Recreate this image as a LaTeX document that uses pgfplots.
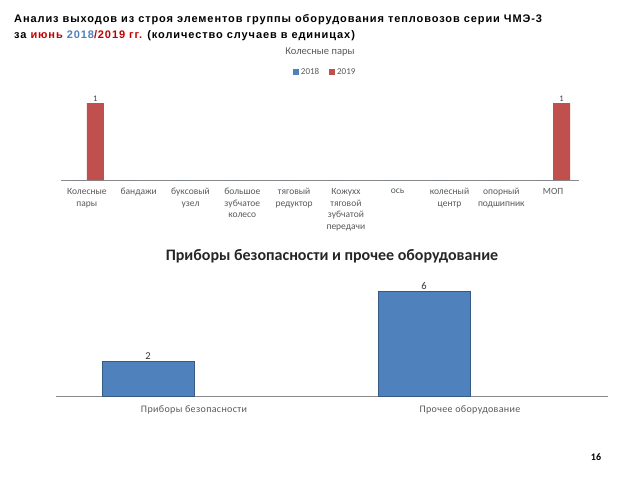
\documentclass[border=0pt]{standalone}
\usepackage{pgfplots}
\pgfplotsset{compat=1.18}
\usepackage{fontspec}
\setmainfont{Liberation Sans}
\newfontfamily\calfont{Carlito}
\definecolor{xblue}{HTML}{4F81BD}
\definecolor{xred}{HTML}{C0504D}
\definecolor{txtgray}{HTML}{595959}
\definecolor{lngray}{HTML}{898989}
\definecolor{ttlred}{HTML}{C00000}
\definecolor{ttlblue}{HTML}{4F81BD}
\begin{document}
\begin{tikzpicture}
\path[fill=white] (0bp,0bp) rectangle (640bp,-480bp);
\node[anchor=base west, inner sep=0pt, font=\fontsize{11bp}{14bp}\selectfont\bfseries\addfontfeature{LetterSpace=8.3}] at (14bp,-22.5bp) {Анализ выходов из строя элементов группы оборудования тепловозов серии ЧМЭ-3};
\node[anchor=base west, inner sep=0pt, font=\fontsize{11bp}{14bp}\selectfont\bfseries\addfontfeature{LetterSpace=8.3}] at (14bp,-38bp) {за \textcolor{ttlred}{июнь} \textcolor{ttlblue}{2018}\textcolor{ttlred}{/2019 гг.} (количество случаев в единицах)};
\node[font=\calfont\fontsize{10.5bp}{12bp}\selectfont, text=txtgray] at (320bp,-52bp) {Колесные пары};
\node[font=\calfont\fontsize{10bp}{12bp}\selectfont\bfseries] at (596bp,-457bp) {16};
\node[font=\calfont\fontsize{16bp}{18bp}\selectfont\bfseries, text=black!85] at (332bp,-256bp) {Приборы безопасности и прочее оборудование};

\begin{axis}[
  at={(61bp,-180bp)}, anchor=south west, scale only axis,
  width=518bp, height=92.4bp,
  ymin=0, ymax=1.2, xmin=-0.5, xmax=9.5,
  axis x line=bottom, hide y axis,
  x axis line style={-, draw=lngray, line width=0.8pt},
  xtick={0,...,9}, major tick length=0pt,
  xticklabels={{Колесные\\пары},{бандажи},{буксовый\\узел},{большое\\зубчатое\\колесо},{тяговый\\редуктор},{Кожухх\\тяговой\\зубчатой\\передачи},{ось},{колесный\\центр},{опорный\\подшипник},{МОП}},
  xticklabel style={align=center, font=\calfont\fontsize{9.5bp}{11.5bp}\selectfont, text=txtgray, yshift=-5bp},
  ybar, bar width=17bp,
  legend columns=2,
  legend style={at={(0.51,1.169)}, anchor=center, draw=none, fill=none, font=\calfont\fontsize{9bp}{10bp}\selectfont, text=txtgray, /tikz/every even column/.append style={column sep=8bp}},
  legend image code/.code={\fill[#1] (0bp,-3bp) rectangle (6bp,3bp);},
  /pgf/number format/assume math mode=true,
  clip=false,
]
\addplot[fill=xblue, draw=none, bar shift=-8.5bp] coordinates {(0,0) (1,0) (2,0) (3,0) (4,0) (5,0) (6,0) (7,0) (8,0) (9,0)};
\addplot[fill=xred, draw=none, bar shift=8.5bp, nodes near coords, every node near coord/.append style={font=\calfont\fontsize{8.5bp}{9bp}\selectfont, text=black!75, inner sep=1.5bp}] coordinates {(0,1) (9,1)};
\legend{2018,2019}
\end{axis}

\begin{axis}[
  at={(56bp,-396bp)}, anchor=south west, scale only axis,
  width=552bp, height=122.5bp,
  ymin=0, ymax=7, xmin=-0.5, xmax=1.5,
  axis x line=bottom, hide y axis,
  x axis line style={-, draw=lngray, line width=0.8pt},
  xtick={0,1}, major tick length=0pt,
  xticklabels={Приборы безопасности, Прочее оборудование},
  xticklabel style={font=\calfont\fontsize{10bp}{12bp}\selectfont\addfontfeature{LetterSpace=3.5}, text=txtgray, yshift=-6bp},
  ybar, bar width=92bp,
  /pgf/number format/assume math mode=true,
  nodes near coords, every node near coord/.append style={font=\calfont\fontsize{10.5bp}{11bp}\selectfont, text=black!80, inner sep=1.5bp},
  clip=false,
]
\addplot[fill=xblue, draw=xblue!70!black, line width=0.3pt, bar shift=-46bp] coordinates {(0,2) (1,6)};
\end{axis}
\end{tikzpicture}
\end{document}
